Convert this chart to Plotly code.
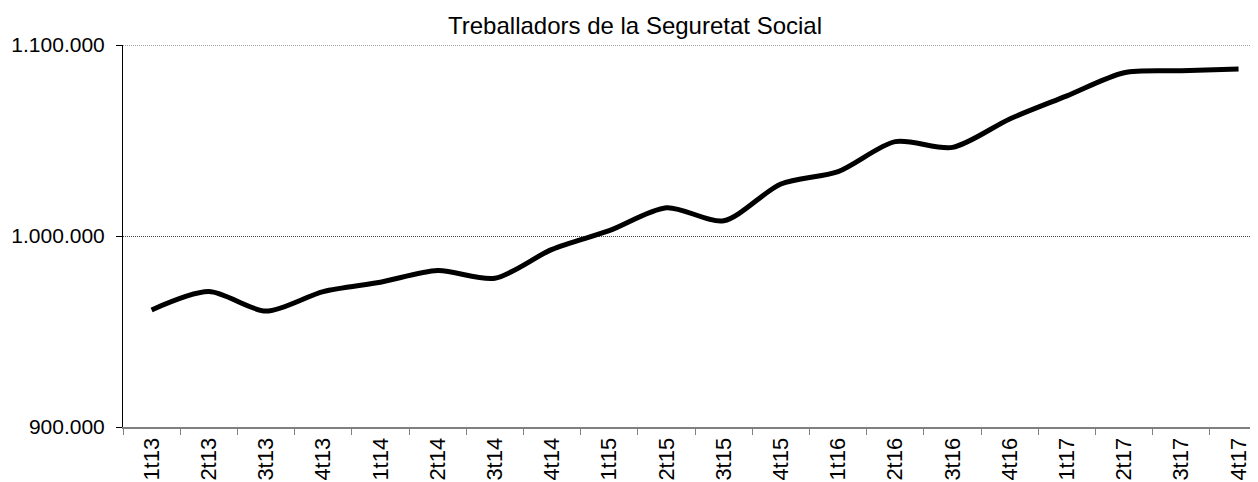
import plotly.graph_objects as go

# quarters and affiliated workers
quarters = ['1t13', '2t13', '3t13', '4t13',
            '1t14', '2t14', '3t14', '4t14',
            '1t15', '2t15', '3t15', '4t15',
            '1t16', '2t16', '3t16', '4t16',
            '1t17', '2t17', '3t17', '4t17']
workers = [961300, 970900, 960700, 970900,
           975800, 981900, 977900, 993000,
           1002800, 1014800, 1008000, 1027200,
           1033700, 1049400, 1046400, 1061300,
           1073400, 1085500, 1086500, 1087400]
y_ticks = [900000, 1000000, 1100000]

font = 'Liberation Sans, Arial, sans-serif'

# page body has an 8px margin, so the figure is 8px smaller each way
W, H = 1250, 474

fig = go.Figure(go.Scatter(
    x=quarters,
    y=workers,
    mode='lines',
    line=dict(color='black', width=5, shape='spline', smoothing=0.8),
    hoverinfo='skip'
))

# top gridline sits on the range edge, plotly drops it, so draw it by hand
fig.add_shape(type='line', xref='paper', yref='y',
              x0=0, x1=1, y0=y_ticks[-1], y1=y_ticks[-1],
              line=dict(color='#404040', width=1, dash='1px,1px'))

fig.update_layout(
    width=W,
    height=H,
    margin=dict(l=115, r=0, t=37, b=55),
    paper_bgcolor='white',
    plot_bgcolor='white',
    separators=',.',
    showlegend=False,
    font=dict(family=font, color='black', size=21),
    title=dict(
        text='Treballadors de la Seguretat Social',
        x=627 / W, xanchor='center',
        y=1 - 18 / H, yanchor='middle',
        font=dict(family=font, size=24, color='black')
    )
)

fig.update_xaxes(
    type='category',
    range=[-0.5, 19.34],
    automargin=False,
    showgrid=False,
    showline=True, linecolor='#808080', linewidth=2,
    ticks='outside', tickson='boundaries', ticklen=6,
    tickcolor='#808080', tickwidth=1,
    tickangle=-90,
    tickfont=dict(size=22)
)

fig.update_yaxes(
    range=[900000, 1100000],
    automargin=False,
    tickvals=y_ticks,
    tickformat=',d',
    showgrid=True, gridcolor='#404040', gridwidth=1, griddash='1px,1px',
    zeroline=False,
    showline=True, linecolor='black', linewidth=1,
    ticks='outside', ticklen=6, tickcolor='black',
    ticklabelstandoff=7,
    tickfont=dict(size=21)
)

fig.write_html('out.html')
